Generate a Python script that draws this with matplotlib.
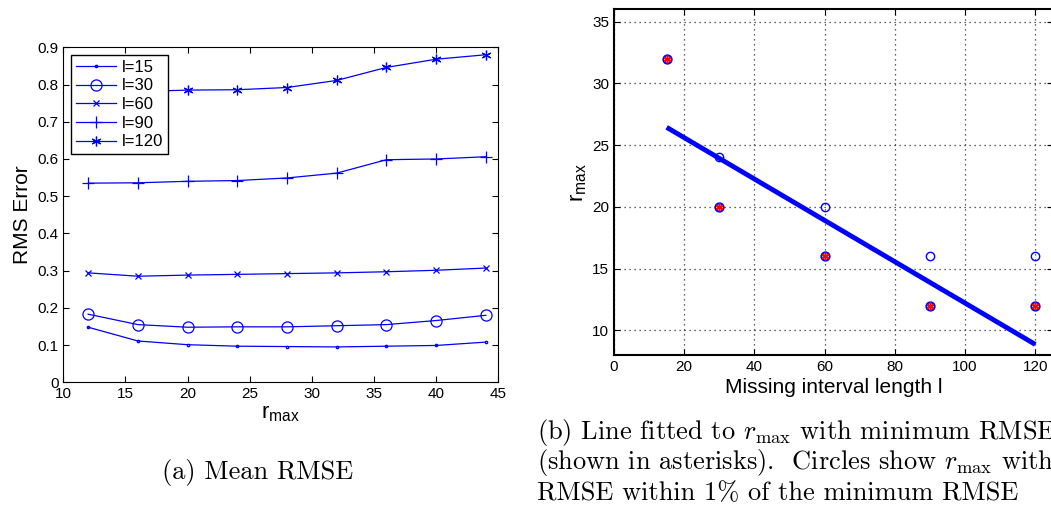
import numpy as np
import matplotlib
matplotlib.use("Agg")
from matplotlib import pyplot as plt

plt.rcParams['font.family'] = ['Liberation Sans', 'DejaVu Sans']
plt.rcParams['mathtext.fontset'] = 'custom'
plt.rcParams['mathtext.rm'] = 'Liberation Sans'
plt.rcParams['mathtext.it'] = 'Liberation Sans:italic'

# left panel: mean RMSE vs r_max
r_max = [12, 16, 20, 24, 28, 32, 36, 40, 44]
rmse_15 = [0.148, 0.111, 0.101, 0.097, 0.096, 0.095, 0.097, 0.099, 0.108]
rmse_30 = [0.183, 0.155, 0.148, 0.149, 0.149, 0.152, 0.155, 0.166, 0.180]
rmse_60 = [0.294, 0.285, 0.288, 0.290, 0.292, 0.294, 0.297, 0.301, 0.307]
rmse_90 = [0.535, 0.536, 0.540, 0.542, 0.549, 0.562, 0.598, 0.600, 0.606]
rmse_120 = [0.778, 0.781, 0.785, 0.786, 0.792, 0.811, 0.846, 0.868, 0.880]

# right panel: best r_max per interval length
lengths = [15, 30, 60, 90, 120]
best_r = [32, 20, 16, 12, 12]
near_l = [30, 60, 90, 120]
near_r = [24, 20, 16, 16]

fig = plt.figure(figsize=(10.51, 5.09), dpi=100)
W, H = 1051, 509

def box(x0, y0, x1, y1):
    return [x0 / W, 1 - y1 / H, (x1 - x0) / W, (y1 - y0) / H]

blue = '#0000ff'
asterisk = (6, 2, 0)

ax1 = fig.add_axes(box(63.3, 47.3, 498.3, 382.3))
series = [(rmse_15, '.', 3.5, 'l=15'), (rmse_30, 'o', 8, 'l=30'),
          (rmse_60, 'x', 5, 'l=60'), (rmse_90, '+', 8, 'l=90'),
          (rmse_120, asterisk, 7, 'l=120')]
for vals, mk, ms, lab in series:
    ax1.plot(r_max, vals, color=blue, lw=0.9, marker=mk, ms=ms, mfc='none',
             mec=blue, mew=0.9, label=lab)
ax1.set_xlim(10, 45)
ax1.set_ylim(0, 0.9)
ax1.set_xticks(range(10, 46, 5))
ax1.set_yticks(np.arange(0, 0.91, 0.1))
ax1.set_yticklabels(['0', '0.1', '0.2', '0.3', '0.4', '0.5', '0.6', '0.7', '0.8', '0.9'])
ax1.tick_params(direction='in', top=True, right=True, labelsize=11, length=4)
ax1.set_ylabel('RMS Error', fontsize=15, labelpad=4)
ax1.set_xlabel(r'r$_{\mathrm{max}}$', fontsize=16, labelpad=1)
leg = ax1.legend(loc='upper left', fontsize=12, fancybox=False, framealpha=1,
                 edgecolor='black', handlelength=2.4, handletextpad=0.35,
                 borderaxespad=0.45, labelspacing=0.22, borderpad=0.3,
                 numpoints=1)
leg.get_frame().set_linewidth(1)

# right panel
ax2 = fig.add_axes(box(614, 9.3, 614 + 125 * 3.511, 355))
slope, icpt = np.polyfit(lengths, best_r, 1)
fit_x = np.array([lengths[0], lengths[-1]])
ax2.plot(fit_x, slope * fit_x + icpt, color=blue, lw=3.5, solid_capstyle='butt')
ax2.plot(near_l, near_r, 'o', ms=6, mfc='none', mec=blue, mew=1)
ax2.plot(lengths, best_r, 'o', ms=6, mfc='none', mec=blue, mew=1.4)
ax2.plot(lengths, best_r, marker=asterisk, ls='none', ms=5.5, mec='red', mew=1.1)
ax2.set_xlim(0, 125)
ax2.set_ylim(8, 36)
ax2.set_xticks(range(0, 121, 20))
ax2.set_yticks(range(10, 36, 5))
ax2.grid(True, ls=(0, (1, 3)), color='#303030', lw=0.9)
ax2.tick_params(direction='in', top=True, right=True, labelsize=11, length=4)
for s in ax2.spines.values():
    s.set_linewidth(1.5)
ax2.set_xlabel('Missing interval length l', fontsize=15, labelpad=3)
ax2.set_ylabel(r'r$_{\mathrm{max}}$', fontsize=16, labelpad=2)

# captions
fig.text(257.5 / W, 1 - 479 / H, '(a) Mean RMSE', fontfamily='cmr10',
         fontsize=19, ha='center', va='baseline')
cap_b = [r'(b) Line fitted to $r_{\max}$ with minimum RMSE',
         r'(shown in asterisks).  Circles show $r_{\max}$ with',
         r'RMSE within 1% of the minimum RMSE']
for i, line in enumerate(cap_b):
    fig.text(537 / W, 1 - (439 + 30.5 * i) / H, line, fontfamily='cmr10',
             math_fontfamily='cm', fontsize=19, ha='left', va='baseline')

fig.savefig('out.png', dpi=100)
